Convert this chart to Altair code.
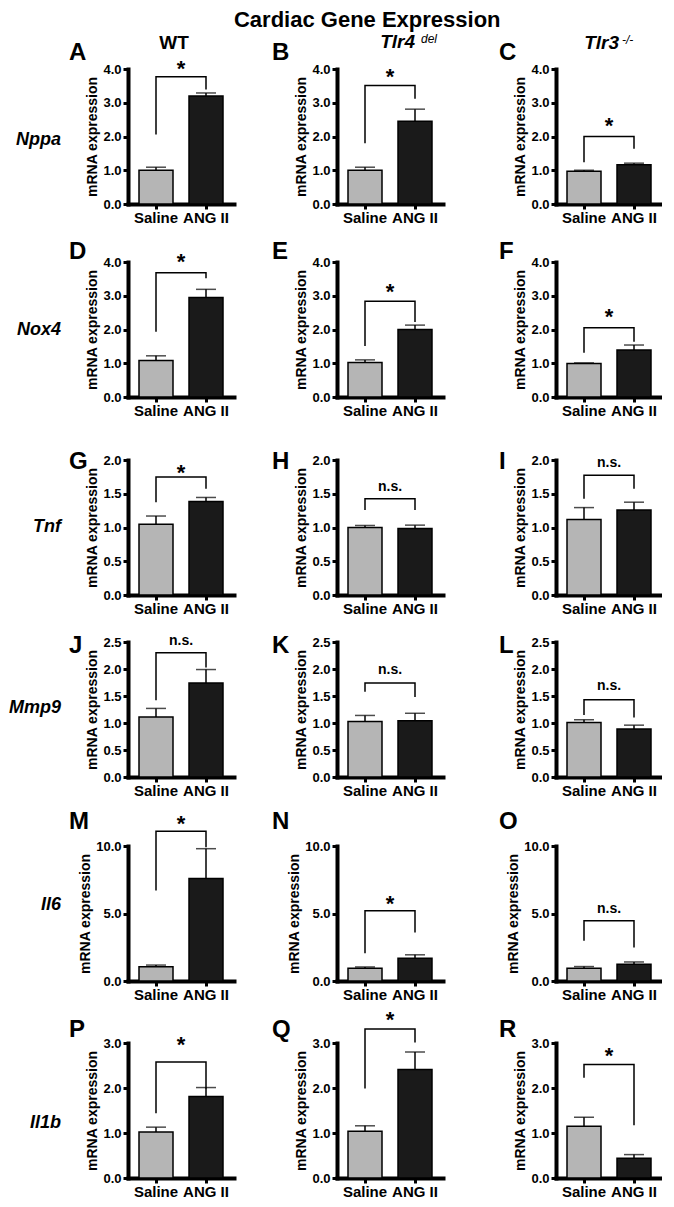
import altair as alt
import pandas as pd

FONT = "Liberation Sans"

# ---------------- data ----------------
genes = ["Nppa", "Nox4", "Tnf", "Mmp9", "Il6", "Il1b"]
strain_names = ["WT", "Tlr4", "Tlr3"]
strain_sups = ["", "del", "-/-"]
panel_letters = list("ABCDEFGHIJKLMNOPQR")
groups = ["Saline", "ANG II"]
y_max = [4.0, 4.0, 2.0, 2.5, 10.0, 3.0]
y_ticks = [[0, 1, 2, 3, 4], [0, 1, 2, 3, 4], [0, 0.5, 1, 1.5, 2],
           [0, 0.5, 1, 1.5, 2, 2.5], [0, 5, 10], [0, 1, 2, 3]]

saline_mean = [1.00, 1.00, 0.97, 1.08, 1.02, 0.99, 1.05, 1.00, 1.12,
               1.11, 1.03, 1.01, 1.05, 0.94, 0.94, 1.02, 1.04, 1.15]
saline_sem = [0.09, 0.09, 0.03, 0.14, 0.08, 0.02, 0.12, 0.03, 0.175,
              0.16, 0.11, 0.05, 0.13, 0.10, 0.13, 0.11, 0.12, 0.20]
ang_mean = [3.20, 2.45, 1.16, 2.95, 2.00, 1.39, 1.385, 0.985, 1.26,
            1.74, 1.04, 0.89, 7.60, 1.69, 1.24, 1.81, 2.41, 0.44]
ang_sem = [0.09, 0.36, 0.05, 0.24, 0.13, 0.15, 0.06, 0.05, 0.115,
           0.25, 0.14, 0.07, 2.20, 0.25, 0.17, 0.20, 0.39, 0.08]
sig_label = ["*", "*", "*", "*", "*", "*", "*", "n.s.", "n.s.",
             "n.s.", "n.s.", "n.s.", "*", "*", "n.s.", "*", "*", "*"]
bracket_y = [3.77, 3.51, 2.00, 3.68, 2.84, 2.05, 1.75, 1.425, 1.775,
             2.30, 1.74, 1.43, 11.1, 5.2, 4.47, 2.58, 3.31, 2.52]
left_leg = [2.06, 1.80, 1.24, 1.93, 1.51, 1.31, 1.375, 1.26, 1.425,
            1.42, 1.58, 1.15, 6.7, 2.06, 2.98, 1.44, 1.99, 2.23]
right_leg = [3.39, 3.12, 1.64, 3.52, 2.22, 1.64, 1.575, 1.26, 1.575,
             2.03, 1.48, 1.10, 9.9, 3.6, 2.48, 1.99, 3.01, 1.17]
label_y = [4.15, 3.92, 2.46, 4.16, 3.27, 2.53, 1.875, 1.60, 1.96,
           2.52, 1.98, 1.69, 12.0, 6.08, 5.33, 3.07, 3.63, 2.83]

# ---------------- layout ----------------
W, H = 106, 135
col_left = [119, 102, 112]          # invisible bound marker, left of y axis
row_top = [45, 36, 41, 25, 47, 40]  # invisible bound marker, above plot
letter_dx = [-59, -65, -57]
letter_dy = [-16, -10, 2, 4, -24, -13]
gene_dy = [3, 0, -1, -2, -9, 12]
head_x = [46, 78, 63]
head_y = [-26, -27, -26]
sup_dx = [0, 6, 3]


def panel(r, c):
    i = 3 * r + c
    bars = pd.DataFrame({
        "group": groups,
        "mean": [saline_mean[i], ang_mean[i]],
        "top": [saline_mean[i] + saline_sem[i], ang_mean[i] + ang_sem[i]],
    })
    brk = pd.DataFrame({
        "group": [groups[0], groups[0], groups[1], groups[1]],
        "v": [left_leg[i], bracket_y[i], bracket_y[i], right_leg[i]],
        "o": [0, 1, 2, 3],
    })
    sig = pd.DataFrame({"t": [sig_label[i]], "v": [label_y[i]]})

    xscale = alt.Scale(domain=groups, paddingInner=0.32, paddingOuter=0.22)
    xaxis = alt.Axis(title=None, labelAngle=0, labelFont=FONT, labelFontSize=15,
                     labelFontWeight="bold", labelColor="black", labelPadding=1,
                     tickSize=5, tickWidth=3, tickColor="black",
                     domainColor="black", domainWidth=4, domainCap="square")
    yscale = alt.Scale(domain=[0, y_max[r]], nice=False, zero=True)
    yaxis = alt.Axis(title="mRNA expression", values=y_ticks[r], format=".1f",
                     labelFont=FONT, labelFontSize=13, labelFontWeight="bold",
                     labelColor="black", labelPadding=2,
                     tickSize=5, tickWidth=3, tickColor="black",
                     domainColor="black", domainWidth=4, domainCap="square",
                     titleFont=FONT, titleFontSize=14, titleFontWeight="bold",
                     titleColor="black", titlePadding=3)

    X = alt.X("group:N", sort=groups, scale=xscale, axis=xaxis)

    def Y(f):
        return alt.Y(f, type="quantitative", scale=yscale, axis=yaxis,
                     title="mRNA expression")

    bar = alt.Chart(bars).mark_bar(stroke="black", strokeWidth=1.5).encode(
        x=X, y=Y("mean"),
        color=alt.Color("group:N", scale=alt.Scale(domain=groups, range=["#b5b5b5", "#1a1a1a"]),
                        legend=None),
    )
    err = alt.Chart(bars).mark_rule(color="black", strokeWidth=1.5).encode(
        x=X, y=Y("mean"), y2="top")
    cap = alt.Chart(bars).mark_tick(color="black", thickness=1.5, size=20).encode(
        x=X, y=Y("top"))
    bline = alt.Chart(brk).mark_line(color="black", strokeWidth=1.5).encode(
        x=X, y=Y("v"), order="o:Q")
    star = sig_label[i] == "*"
    stext = alt.Chart(sig).mark_text(
        font=FONT, fontWeight="bold", fontSize=22 if star else 14,
        baseline="alphabetic", dy=12 if star else 4, color="black",
    ).encode(x=alt.value(W / 2), y=Y("v"), text="t:N")

    letter = alt.Chart(pd.DataFrame({"t": [panel_letters[i]]})).mark_text(
        font=FONT, fontWeight="bold", fontSize=24, align="left", baseline="middle",
        color="black",
    ).encode(x=alt.value(letter_dx[c]), y=alt.value(letter_dy[r]), text="t:N")

    marker = alt.Chart(pd.DataFrame({"k": [0]})).mark_point(opacity=0, size=1).encode(
        x=alt.value(-col_left[c]), y=alt.value(-row_top[r]))

    layers = [bar, err, cap, bline, stext, letter, marker]

    if c == 0:
        layers.append(alt.Chart(pd.DataFrame({"t": [genes[r]]})).mark_text(
            font=FONT, fontWeight="bold", fontStyle="italic", fontSize=18,
            align="right", baseline="middle", color="black",
        ).encode(x=alt.value(-67), y=alt.value(H / 2 + gene_dy[r]), text="t:N"))

    if r == 0:
        if c == 0:
            layers.append(alt.Chart(pd.DataFrame({"t": [strain_names[c]]})).mark_text(
                font=FONT, fontWeight="bold", fontSize=19, align="center",
                baseline="middle", color="black",
            ).encode(x=alt.value(head_x[c]), y=alt.value(head_y[c]), text="t:N"))
        else:
            layers.append(alt.Chart(pd.DataFrame({"t": [strain_names[c]]})).mark_text(
                font=FONT, fontWeight="bold", fontStyle="italic", fontSize=19,
                align="right", baseline="middle", color="black",
            ).encode(x=alt.value(head_x[c]), y=alt.value(head_y[c]), text="t:N"))
            layers.append(alt.Chart(pd.DataFrame({"t": [strain_sups[c]]})).mark_text(
                font=FONT, fontStyle="italic", fontSize=12,
                align="left", baseline="middle", color="black",
            ).encode(x=alt.value(head_x[c] + sup_dx[c]), y=alt.value(head_y[c] - 3),
                     text="t:N"))

    return alt.layer(*layers).properties(width=W, height=H)


rows = [alt.hconcat(*[panel(r, c) for c in range(3)], spacing=0) for r in range(6)]

chart = alt.vconcat(*rows, spacing=0).properties(
    title=alt.TitleParams(text="Cardiac Gene Expression", fontSize=22, font=FONT,
                          fontWeight="bold", anchor="middle", dx=32, offset=-8,
                          color="black"),
    padding={"left": 0, "top": 0, "right": 0, "bottom": 0},
    background="white",
).configure_view(stroke=None).configure_axis(grid=False)

chart.save("out.html", embed_options={"renderer": "svg", "actions": False})
